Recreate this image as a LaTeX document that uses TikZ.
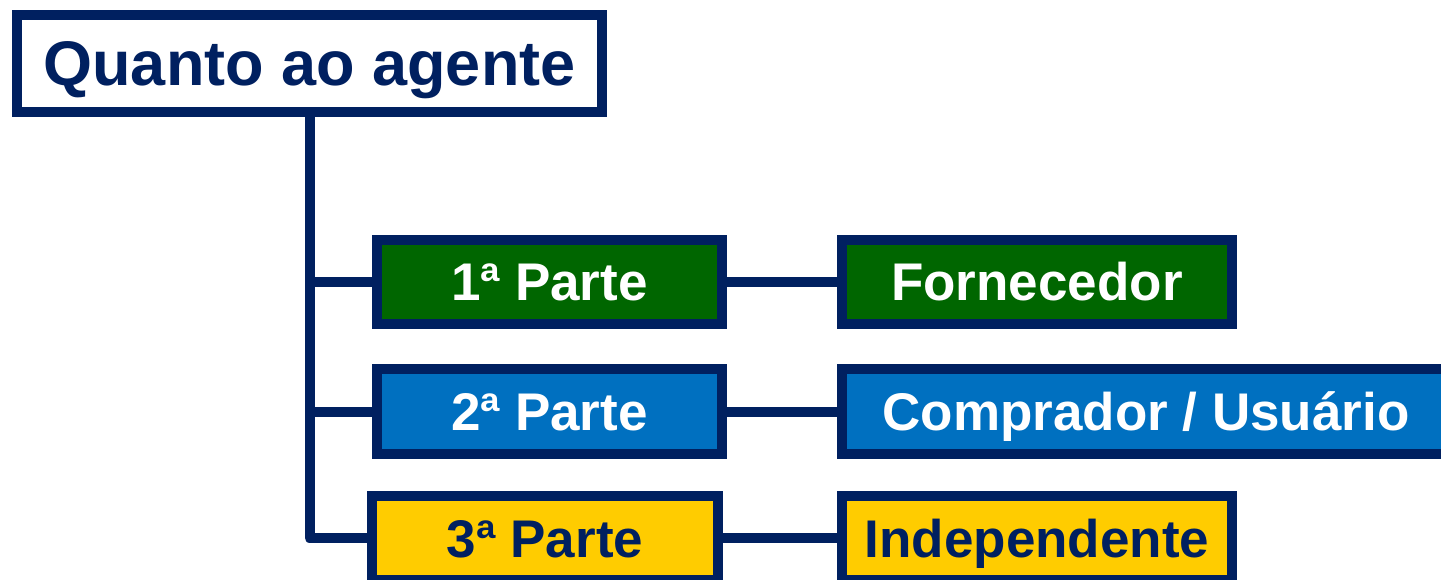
\documentclass[tikz,border=0pt]{standalone}
\usepackage{fontspec}
\setmainfont{Liberation Sans}
\definecolor{navy}{HTML}{002060}
\definecolor{grn}{HTML}{006600}
\definecolor{blu}{HTML}{0070C0}
\definecolor{ylw}{HTML}{FFCC00}
\begin{document}
\begin{tikzpicture}[x=1pt,y=-1pt,
  box/.style={draw=navy, line width=10pt, rectangle, inner sep=0pt, minimum height=84pt,
    text height=38pt, text depth=0pt, font=\fontsize{53}{60}\selectfont\bfseries},
  conn/.style={draw=navy, line width=10pt},
]
\useasboundingbox (0,0) rectangle (1441,580);
\clip (0,0) rectangle (1441,580);
\node[box, fill=white, text=navy, minimum width=585pt, minimum height=97pt,
  text height=45pt, font=\fontsize{63}{70}\selectfont\bfseries] (title) at (309.5,63.5) {Quanto ao agente};
\node[box, fill=grn, text=white, minimum width=345pt] (b1) at (549.5,282) {1ª Parte};
\node[box, fill=blu, text=white, minimum width=345pt, minimum height=85pt] (b2) at (549.5,411.5) {2ª Parte};
\node[box, fill=ylw, text=navy, minimum width=346pt] (b3) at (545,538) {3ª Parte};
\node[box, fill=grn, text=white, minimum width=390pt] (r1) at (1037,282) {Fornecedor};
\node[box, fill=blu, text=white, minimum width=608pt, minimum height=85pt] (r2) at (1146,411.5) {Comprador / Usuário};
\node[box, fill=ylw, text=navy, minimum width=390pt] (r3) at (1037,538) {Independente};
\draw[conn, line join=round] (title.south) |- (b3.west);
\draw[conn] (b1.west -| title.south) -- (b1.west);
\draw[conn] (b2.west -| title.south) -- (b2.west);
\draw[conn] (b1.east) -- (r1.west);
\draw[conn] (b2.east) -- (r2.west);
\draw[conn] (b3.east) -- (r3.west);
\end{tikzpicture}
\end{document}
